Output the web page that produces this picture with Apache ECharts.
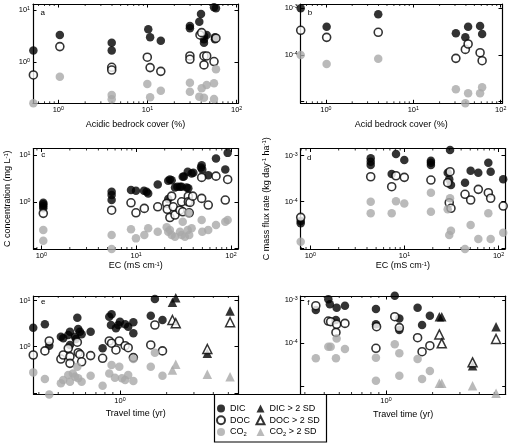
<!DOCTYPE html>
<html><head><meta charset="utf-8">
<script src="https://cdn.jsdelivr.net/npm/echarts@6/dist/echarts.min.js"></script>
<style>html,body{margin:0;padding:0;background:#fff}#c{width:510px;height:444px}</style>
</head><body><div id="c"></div>
<script>
// ---------------- DATA ([x, y] pairs) ----------------
// Panel a: concentration (mg L-1) vs acidic bedrock cover (%)
const aDIC = [[0.525,1.67],[1.04,3.33],[3.97,2.37],[3.97,1.67],[10.2,4.27],[10.7,3.01],[14.1,2.59],[29.9,4.94],[29.9,4.47],[38.1,5.97],[39.8,8.38],[43.0,3.18],[43.0,2.75],[43.0,2.37],[46.1,3.33],[55.7,11.3],[58.6,10.8],[57.1,3.01],[57.1,2.75]];
const aDOC = [[0.525,0.571],[1.04,1.99],[3.97,0.80],[3.97,0.71],[9.95,1.25],[10.7,0.79],[14.1,0.67],[29.9,1.32],[29.9,1.14],[38.8,3.33],[40.5,3.68],[43.0,1.32],[46.1,1.32],[43.0,0.89],[55.7,1.03],[58.6,2.88]];
const aCO2 = [[0.525,0.164],[1.04,0.53],[3.97,0.237],[3.97,0.196],[9.95,0.385],[10.7,0.214],[14.1,0.286],[29.9,0.407],[29.9,0.274],[38.1,0.22],[40.5,0.318],[43.0,0.21],[46.1,0.368],[55.7,0.396],[55.7,0.199],[58.6,0.735]];
// Panel b: mass flux (kg day-1 ha-1) vs acid bedrock cover (%)
const bDIC = [[0.515,1.0e-3],[1.02,4.04e-4],[3.97,7.44e-4],[30.7,2.92e-4],[39.4,2.39e-4],[42.4,4.04e-4],[58.1,4.18e-4],[61.3,2.82e-4]];
const bDOC = [[0.515,3.38e-4],[1.02,2.39e-4],[3.97,3.06e-4],[30.7,8.49e-5],[39.4,1.32e-4],[42.4,1.72e-4],[58.1,1.12e-4],[61.3,7.55e-5]];
const bCO2 = [[0.515,1.0e-4],[1.02,6.41e-5],[3.97,8.34e-5],[30.7,1.85e-5],[39.4,9.25e-6],[42.4,1.51e-5],[58.1,1.51e-5],[61.3,2.03e-5]];
// Panel c: concentration vs EC
const cDIC = [[1.05,0.95],[1.05,0.88],[1.05,0.80],[1.05,0.73],[5.52,1.64],[5.52,1.39],[5.52,1.09],[8.83,1.78],[9.96,1.72],[12.1,1.72],[12.9,1.64],[13.4,1.51],[16.9,2.36],[21.8,2.82],[22.7,3.01],[23.7,2.9],[21.8,1.15],[25.7,2.03],[27.2,2.09],[29.0,2.09],[30.2,2.09],[31.0,3.43],[31.9,3.5],[34.1,2.03],[35.0,4.39],[35.5,1.95],[38.5,4.05],[40.1,4.2],[48.3,5.46],[49.1,6.1],[49.8,4.94],[57.6,3.73],[69.5,8.5],[87.1,4.94],[92.3,11.2]];
const cDOC = [[1.05,0.565],[5.52,0.66],[8.83,0.95],[9.96,0.58],[12.2,0.72],[16.9,0.78],[21.0,0.92],[21.3,0.69],[22.7,0.46],[23.7,1.32],[24.6,0.78],[25.7,0.52],[29.0,0.66],[30.2,1.0],[31.0,0.61],[35.5,1.32],[35.5,1.0],[36.3,0.58],[37.0,0.97],[39.5,1.32],[49.1,3.33],[49.1,1.18],[57.6,0.85],[69.5,3.55],[87.1,1.09],[92.3,3.01]];
const cCO2 = [[1.05,0.248],[1.05,0.146],[5.52,0.194],[5.52,0.097],[8.83,0.256],[9.96,0.164],[12.2,0.194],[13.4,0.27],[16.9,0.228],[21.0,0.283],[21.8,0.228],[22.7,0.248],[23.7,0.194],[25.7,0.178],[29.0,0.228],[30.2,0.194],[31.0,0.373],[32.7,0.178],[35.0,0.248],[35.5,0.565],[36.3,0.194],[38.5,0.27],[49.1,0.406],[49.8,0.228],[57.6,0.248],[69.5,0.317],[87.1,0.373],[92.3,0.406]];
// Panel d: mass flux vs EC
const dDIC = [[0.79,3.8e-5],[0.79,3.4e-5],[4.38,8.78e-4],[4.38,7.4e-4],[4.38,6.28e-4],[7.32,4.0e-4],[8.13,1.09e-3],[9.96,8.07e-4],[19.1,7.8e-4],[19.1,7.0e-4],[19.1,6.3e-4],[28.8,4.27e-4],[29.9,3.07e-4],[30.5,1.33e-3],[31.2,2.31e-4],[44.0,2.59e-4],[50.5,4.72e-4],[60.9,4.27e-4],[77.8,7.05e-4],[82.4,4.49e-4],[112,3.07e-4]];
const dDOC = [[0.79,4.58e-5],[4.38,3.49e-4],[7.32,2.12e-4],[8.13,3.67e-4],[9.96,3.39e-4],[19.1,2.96e-4],[28.8,2.59e-4],[30.5,4.49e-4],[29.9,9.5e-5],[31.2,7.2e-5],[44.0,1.45e-4],[50.5,1.09e-4],[60.9,1.86e-4],[77.8,1.57e-4],[82.4,1.19e-4],[112,8.07e-5]];
const dCO2 = [[0.79,1.35e-5],[4.38,1.0e-4],[4.38,5.6e-5],[7.32,5.6e-5],[8.13,1.03e-4],[9.96,9.2e-5],[19.1,1.57e-4],[19.1,6.07e-5],[28.8,6.84e-5],[29.9,1.89e-5],[31.2,2.34e-5],[30.5,1.19e-4],[44.0,9.4e-6],[50.5,3.11e-5],[60.9,1.55e-5],[77.8,5.6e-5],[82.4,1.55e-5],[112,2.12e-5]];
// Panel e: concentration vs travel time (yr)
const eDIC = [[0.276,2.59],[0.328,3.07],[0.35,1.05],[0.416,1.65],[0.431,1.52],[0.464,1.79],[0.476,2.12],[0.476,1.09],[0.513,1.65],[0.52,1.47],[0.531,4.27],[0.538,2.43],[0.552,2.12],[0.566,1.86],[0.647,2.12],[0.773,0.92],[0.853,4.49],[0.883,5.06],[0.875,2.96],[0.942,2.51],[0.975,2.96],[1.0,3.49],[1.08,3.07],[1.13,2.72],[1.22,3.39],[1.22,1.96],[1.58,4.72],[1.68,10.9],[1.88,3.8]];
const eDOC = [[0.276,0.66],[0.328,0.81],[0.35,1.33],[0.416,0.54],[0.431,0.66],[0.464,0.92],[0.476,0.61],[0.476,0.435],[0.531,1.25],[0.538,0.74],[0.552,0.68],[0.566,0.47],[0.647,0.64],[0.773,0.56],[0.853,1.33],[0.883,1.19],[0.942,0.85],[0.99,1.33],[1.08,1.05],[1.13,0.95],[1.22,0.58],[1.58,1.09],[1.68,2.96],[1.88,0.81]];
const eCO2 = [[0.276,0.277],[0.328,0.199],[0.35,0.092],[0.416,0.16],[0.431,0.189],[0.464,0.243],[0.476,0.173],[0.497,0.263],[0.513,0.223],[0.531,0.367],[0.538,0.206],[0.566,0.173],[0.647,0.234],[0.773,0.142],[0.853,0.263],[0.883,0.4],[0.928,0.212],[0.99,0.367],[1.03,0.206],[1.08,0.189],[1.13,0.243],[1.22,0.54],[1.22,0.18],[1.58,0.367],[1.68,0.74],[1.88,0.234]];
const eDIC2SD = [[2.18,9.23],[2.29,11.6],[3.66,0.72],[5.13,5.97]];
const eDOC2SD = [[2.18,3.8],[2.29,3.23],[3.66,0.89],[5.13,3.39]];
const eCO22SD = [[2.18,0.311],[2.29,0.414],[3.66,0.251],[5.13,0.223]];
// Panel f: mass flux vs travel time (yr)
const fDIC = [[0.353,5.88e-4],[0.425,1.05e-3],[0.435,7.96e-4],[0.476,3.45e-4],[0.481,6.65e-4],[0.544,7.4e-4],[0.862,6.2e-4],[0.862,2.75e-4],[1.14,1.26e-3],[1.22,3.77e-4],[1.22,2.03e-4],[1.6,6.65e-4],[1.71,2.65e-4],[1.92,4.35e-4]];
const fDOC = [[0.353,7.4e-4],[0.425,3.27e-4],[0.44,3.16e-4],[0.476,1.79e-4],[0.481,2.75e-4],[0.544,2.89e-4],[0.862,7.67e-5],[0.87,2.42e-4],[1.14,4.12e-4],[1.22,2.3e-4],[1.6,1.35e-4],[1.71,6.4e-5],[1.92,8.8e-5]];
const fCO2 = [[0.353,4.5e-5],[0.425,8.36e-5],[0.44,8.36e-5],[0.476,4.5e-5],[0.481,1.3e-4],[0.544,7.38e-5],[0.862,4.65e-5],[0.862,1.37e-5],[1.14,9.5e-5],[1.22,5.87e-5],[1.22,1.79e-5],[1.6,4.34e-5],[1.71,1.5e-5],[1.92,2.29e-5]];
const fDIC2SD = [[2.21,4.12e-4],[2.29,4.12e-4],[3.62,3.04e-5],[5.13,2.42e-4]];
const fDOC2SD = [[2.21,1.61e-4],[2.29,1.0e-4],[3.62,3.64e-5],[5.13,1.26e-4]];
const fCO22SD = [[2.21,1.19e-5],[2.29,1.19e-5],[3.62,1.05e-5],[5.13,7.0e-6]];

// Axis ranges, labelled decades (exponents) and minor-tick values
const xRangeA = [0.52, 103.5], yRangeA = [0.164, 13.0];
const xRangeB = [0.515, 103.5], yRangeB = [9.25e-6, 1.236e-3];
const xRangeC = [0.828, 118.6], yRangeC = [0.097, 13.9];
const xRangeD = [0.79, 117], yRangeD = [9.4e-6, 1.435e-3];
const xRangeE = [0.277, 5.77], yRangeE = [0.094, 12.6];
const xRangeF = [0.282, 5.92], yRangeF = [6.75e-6, 1.24e-3];
const xTickExpAB = [0, 1, 2], xTickExpCD = [0, 1, 2], xTickExpEF = [0];
const yTickExpConc = [0, 1], yTickExpFlux = [-4, -3];
const xMinorTicks = [0.3, 0.4, 0.5, 0.6, 0.7, 0.8, 0.9, 2, 3, 4, 5, 6, 7, 8, 9, 20, 30, 40, 50, 60, 70, 80, 90];

const SERIES_NAMES = ['DIC', 'DOC', 'CO₂', 'DIC > 2 SD', 'DOC > 2 SD', 'CO₂ > 2 SD'];

// ---------------- STYLE / LAYOUT ----------------
const FONT = 'Liberation Sans, Arial, Helvetica, sans-serif';
const GRAY = '#a9a9a9';
const STYLE = {
  'DIC': {symbol: 'circle', symbolSize: 8.5, itemStyle: {color: '#000'}},
  'DOC': {symbol: 'circle', symbolSize: 8, itemStyle: {color: '#fff', borderColor: '#000', borderWidth: 1.6}},
  'CO₂': {symbol: 'circle', symbolSize: 8.5, itemStyle: {color: GRAY}},
  'DIC > 2 SD': {symbol: 'triangle', symbolSize: 9.5, itemStyle: {color: '#000'}},
  'DOC > 2 SD': {symbol: 'triangle', symbolSize: 9, itemStyle: {color: '#fff', borderColor: '#000', borderWidth: 1.5}},
  'CO₂ > 2 SD': {symbol: 'triangle', symbolSize: 9.5, itemStyle: {color: GRAY}}
};

const panels = [
  {grid: {left: 33, top: 4, width: 205, height: 99.3}, x: xRangeA, y: yRangeA, xe: xTickExpAB, ye: yTickExpConc,
   xName: 'Acidic bedrock cover (%)', xGap: 16.5, letter: ['a', 42.7, 12.5],
   data: {'DIC': aDIC, 'DOC': aDOC, 'CO₂': aCO2}},
  {grid: {left: 300.7, top: 4, width: 201.3, height: 99.3}, x: xRangeB, y: yRangeB, xe: xTickExpAB, ye: yTickExpFlux,
   xName: 'Acid bedrock cover (%)', xGap: 16.5, letter: ['b', 310, 13],
   data: {'DIC': bDIC, 'DOC': bDOC, 'CO₂': bCO2}},
  {grid: {left: 33.5, top: 148.5, width: 204.5, height: 100.5}, x: xRangeC, y: yRangeC, xe: xTickExpCD, ye: yTickExpConc,
   xName: 'EC (mS cm{s|-1})', xGap: 12, yName: 'C concentration (mg L{s|-1})', yGap: 21.5, letter: ['c', 43.3, 155],
   data: {'DIC': cDIC, 'DOC': cDOC, 'CO₂': cCO2}},
  {grid: {left: 300.7, top: 148.5, width: 204.3, height: 100.5}, x: xRangeD, y: yRangeD, xe: xTickExpCD, ye: yTickExpFlux,
   xName: 'EC (mS cm{s|-1})', xGap: 11, yName: 'C mass flux rate (kg day{s|-1} ha{s|-1})', yGap: 30, letter: ['d', 309.3, 157.5],
   data: {'DIC': dDIC, 'DOC': dDOC, 'CO₂': dCO2}},
  {grid: {left: 33.5, top: 296, width: 204.5, height: 98}, x: xRangeE, y: yRangeE, xe: xTickExpEF, ye: yTickExpConc,
   xName: 'Travel time (yr)', xGap: 15.5, letter: ['e', 43.3, 301.5],
   data: {'DIC': eDIC, 'DOC': eDOC, 'CO₂': eCO2, 'DIC > 2 SD': eDIC2SD, 'DOC > 2 SD': eDOC2SD, 'CO₂ > 2 SD': eCO22SD}},
  {grid: {left: 300.7, top: 296, width: 205, height: 98}, x: xRangeF, y: yRangeF, xe: xTickExpEF, ye: yTickExpFlux,
   xName: 'Travel time (yr)', xGap: 16.5, letter: ['f', 308.3, 303],
   data: {'DIC': fDIC, 'DOC': fDOC, 'CO₂': fCO2, 'DIC > 2 SD': fDIC2SD, 'DOC > 2 SD': fDOC2SD, 'CO₂ > 2 SD': fCO22SD}}
];

const RICH = {
  b: {fontSize: 7.5, fontFamily: FONT, color: '#000'},
  s: {fontSize: 5.3, fontFamily: FONT, color: '#000', verticalAlign: 'top'}
};
const NAME_RICH = {
  s: {fontSize: 5.8, fontFamily: FONT, color: '#000', verticalAlign: 'top'}
};

function logFormatter(exps) {
  return function (v) {
    const l = Math.log10(v);
    const e = Math.round(l);
    if (Math.abs(l - e) > 1e-6 || exps.indexOf(e) < 0) return '';
    return '{b|10}{s|' + e + '}';
  };
}

function axisBase(gi, range, exps, position, showLabel) {
  return {
    type: 'log', logBase: 10, gridIndex: gi, position: position,
    min: range[0], max: range[1],
    axisLine: {show: true, onZero: false, lineStyle: {color: '#000', width: 1.2}},
    axisTick: {show: true, inside: true, length: 3.5, lineStyle: {color: '#000', width: 1}},
    axisLabel: {show: showLabel, margin: 3, formatter: logFormatter(exps), rich: RICH, color: '#000'},
    splitLine: {show: false},
    minorTick: {show: false}
  };
}

const grids = [], xAxes = [], yAxes = [], series = [], graphics = [];
panels.forEach((p, i) => {
  grids.push(Object.assign({show: false}, p.grid));
  const xb = axisBase(i, p.x, p.xe, 'bottom', true);
  xb.name = p.xName; xb.nameLocation = 'middle'; xb.nameGap = p.xGap;
  xb.nameTextStyle = {fontSize: 9, fontFamily: FONT, color: '#000', rich: NAME_RICH};
  xAxes.push(xb);
  xAxes.push(axisBase(i, p.x, p.xe, 'top', false));
  const yl = axisBase(i, p.y, p.ye, 'left', true);
  if (p.yName) {
    yl.name = p.yName; yl.nameLocation = 'middle'; yl.nameGap = p.yGap;
    yl.nameTextStyle = {fontSize: 9, fontFamily: FONT, color: '#000', rich: NAME_RICH};
  }
  yAxes.push(yl);
  yAxes.push(axisBase(i, p.y, p.ye, 'right', false));
  // minor ticks along bottom and top edges, placed through the x scale
  const yLow = p.y[0];
  const xr = p.x;
  series.push({
    type: 'custom', xAxisIndex: 2 * i, yAxisIndex: 2 * i, silent: true, clip: false, z: 3,
    data: xMinorTicks.filter(v => v > xr[0] && v < xr[1]).map(v => [v, yLow]),
    renderItem: function (params, api) {
      const cs = params.coordSys;
      const px = api.coord([api.value(0), yLow])[0];
      const bottom = cs.y + cs.height, top = cs.y;
      return {type: 'group', children: [
        {type: 'line', shape: {x1: px, y1: bottom, x2: px, y2: bottom - 2}, style: {stroke: '#000', lineWidth: 0.8}},
        {type: 'line', shape: {x1: px, y1: top, x2: px, y2: top + 2}, style: {stroke: '#000', lineWidth: 0.8}}
      ]};
    }
  });
  SERIES_NAMES.forEach(n => {
    if (!p.data[n]) return;
    const st = STYLE[n];
    series.push({
      type: 'scatter', name: n, xAxisIndex: 2 * i, yAxisIndex: 2 * i,
      data: p.data[n], symbol: st.symbol, symbolSize: st.symbolSize,
      itemStyle: st.itemStyle, clip: false, silent: true, z: 5
    });
  });
  graphics.push({type: 'text', x: p.letter[1], y: p.letter[2], z: 10,
    style: {text: p.letter[0], font: '8px ' + FONT, fill: '#000', align: 'center', verticalAlign: 'middle'}});
});

graphics.push({type: 'rect', z: 1, shape: {x: 214.5, y: 394.5, width: 112, height: 47.5},
  style: {fill: '#fff', stroke: '#000', lineWidth: 1.2}});

const legendCommon = {
  orient: 'vertical', itemWidth: 8, itemHeight: 8, itemGap: 1.7, padding: 0, z: 20,
  selectedMode: false,
  textStyle: {fontSize: 9, fontFamily: FONT, color: '#000', lineHeight: 10,
    rich: {sub: {fontSize: 5.8, fontFamily: FONT, color: '#000', verticalAlign: 'bottom'}}},
  formatter: n => n.replace('₂', '{sub|2}')
};

const option = {
  animation: false,
  backgroundColor: '#fff',
  grid: grids, xAxis: xAxes, yAxis: yAxes, series: series,
  legend: [
    Object.assign({left: 216, top: 403.5, data: ['DIC', 'DOC', 'CO₂']}, legendCommon),
    Object.assign({left: 255.5, top: 403.5, data: ['DIC > 2 SD', 'DOC > 2 SD', 'CO₂ > 2 SD']}, legendCommon)
  ],
  graphic: graphics
};

const chart = echarts.init(document.getElementById('c'), null, {renderer: 'canvas'});
chart.setOption(option);
</script></body></html>
